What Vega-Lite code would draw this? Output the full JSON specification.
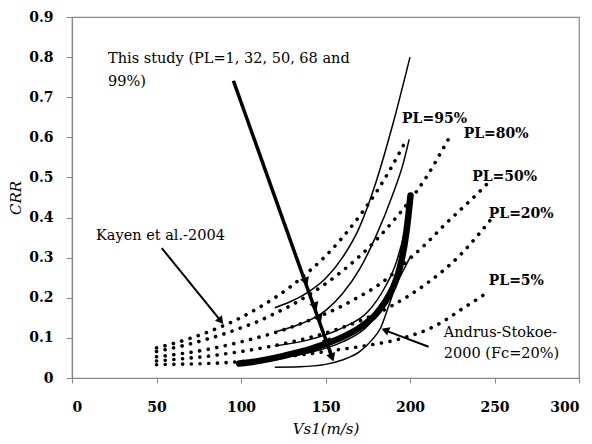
{
  "$schema": "https://vega.github.io/schema/vega-lite/v6.json",
  "width": 507,
  "height": 361,
  "autosize": {"type": "none"},
  "padding": {"left": 72, "top": 17, "right": 13, "bottom": 66},
  "background": "white",
  "config": {
    "view": {"stroke": "#888888", "strokeWidth": 1.2},
    "axis": {
      "grid": false,
      "domainColor": "#888888",
      "domainWidth": 1.2,
      "tickColor": "#888888",
      "labelColor": "black",
      "labelFont": "DejaVu Serif",
      "labelFontWeight": "bold",
      "labelFontSize": 14,
      "titleFont": "DejaVu Serif",
      "titleFontStyle": "italic",
      "titleFontWeight": "normal",
      "titleFontSize": 15,
      "titleColor": "black"
    }
  },
  "datasets": {
    "kayen": [
      {"c": "PL95", "x": 50, "y": 0.075}, {"c": "PL95", "x": 60, "y": 0.086}, {"c": "PL95", "x": 70, "y": 0.099}, {"c": "PL95", "x": 80, "y": 0.114}, {"c": "PL95", "x": 90, "y": 0.131}, {"c": "PL95", "x": 100, "y": 0.151}, {"c": "PL95", "x": 110, "y": 0.174}, {"c": "PL95", "x": 120, "y": 0.2}, {"c": "PL95", "x": 130, "y": 0.23}, {"c": "PL95", "x": 140, "y": 0.265}, {"c": "PL95", "x": 150, "y": 0.304}, {"c": "PL95", "x": 160, "y": 0.35}, {"c": "PL95", "x": 170, "y": 0.403}, {"c": "PL95", "x": 180, "y": 0.463}, {"c": "PL95", "x": 190, "y": 0.533}, {"c": "PL95", "x": 198, "y": 0.595},
      {"c": "PL80", "x": 50, "y": 0.066}, {"c": "PL80", "x": 60, "y": 0.075}, {"c": "PL80", "x": 70, "y": 0.085}, {"c": "PL80", "x": 80, "y": 0.097}, {"c": "PL80", "x": 90, "y": 0.11}, {"c": "PL80", "x": 100, "y": 0.125}, {"c": "PL80", "x": 110, "y": 0.141}, {"c": "PL80", "x": 120, "y": 0.161}, {"c": "PL80", "x": 130, "y": 0.182}, {"c": "PL80", "x": 140, "y": 0.207}, {"c": "PL80", "x": 150, "y": 0.235}, {"c": "PL80", "x": 160, "y": 0.267}, {"c": "PL80", "x": 170, "y": 0.303}, {"c": "PL80", "x": 180, "y": 0.344}, {"c": "PL80", "x": 190, "y": 0.391}, {"c": "PL80", "x": 200, "y": 0.443}, {"c": "PL80", "x": 210, "y": 0.503}, {"c": "PL80", "x": 218, "y": 0.56}, {"c": "PL80", "x": 224, "y": 0.605},
      {"c": "PL50", "x": 50, "y": 0.053}, {"c": "PL50", "x": 60, "y": 0.058}, {"c": "PL50", "x": 70, "y": 0.064}, {"c": "PL50", "x": 80, "y": 0.071}, {"c": "PL50", "x": 90, "y": 0.08}, {"c": "PL50", "x": 100, "y": 0.09}, {"c": "PL50", "x": 110, "y": 0.101}, {"c": "PL50", "x": 120, "y": 0.113}, {"c": "PL50", "x": 130, "y": 0.127}, {"c": "PL50", "x": 140, "y": 0.143}, {"c": "PL50", "x": 150, "y": 0.16}, {"c": "PL50", "x": 160, "y": 0.18}, {"c": "PL50", "x": 170, "y": 0.203}, {"c": "PL50", "x": 180, "y": 0.228}, {"c": "PL50", "x": 190, "y": 0.26}, {"c": "PL50", "x": 200, "y": 0.298}, {"c": "PL50", "x": 210, "y": 0.337}, {"c": "PL50", "x": 220, "y": 0.38}, {"c": "PL50", "x": 230, "y": 0.42}, {"c": "PL50", "x": 240, "y": 0.46}, {"c": "PL50", "x": 247, "y": 0.49},
      {"c": "PL20", "x": 50, "y": 0.0425}, {"c": "PL20", "x": 60, "y": 0.046}, {"c": "PL20", "x": 70, "y": 0.05}, {"c": "PL20", "x": 80, "y": 0.054}, {"c": "PL20", "x": 90, "y": 0.06}, {"c": "PL20", "x": 100, "y": 0.066}, {"c": "PL20", "x": 110, "y": 0.073}, {"c": "PL20", "x": 120, "y": 0.081}, {"c": "PL20", "x": 130, "y": 0.09}, {"c": "PL20", "x": 140, "y": 0.1}, {"c": "PL20", "x": 150, "y": 0.112}, {"c": "PL20", "x": 160, "y": 0.126}, {"c": "PL20", "x": 170, "y": 0.142}, {"c": "PL20", "x": 180, "y": 0.16}, {"c": "PL20", "x": 190, "y": 0.182}, {"c": "PL20", "x": 200, "y": 0.207}, {"c": "PL20", "x": 210, "y": 0.236}, {"c": "PL20", "x": 220, "y": 0.269}, {"c": "PL20", "x": 230, "y": 0.308}, {"c": "PL20", "x": 240, "y": 0.355}, {"c": "PL20", "x": 247.6, "y": 0.394},
      {"c": "PL5", "x": 50, "y": 0.033}, {"c": "PL5", "x": 60, "y": 0.034}, {"c": "PL5", "x": 70, "y": 0.035}, {"c": "PL5", "x": 80, "y": 0.036}, {"c": "PL5", "x": 90, "y": 0.038}, {"c": "PL5", "x": 100, "y": 0.041}, {"c": "PL5", "x": 110, "y": 0.045}, {"c": "PL5", "x": 120, "y": 0.05}, {"c": "PL5", "x": 130, "y": 0.055}, {"c": "PL5", "x": 140, "y": 0.06}, {"c": "PL5", "x": 150, "y": 0.066}, {"c": "PL5", "x": 160, "y": 0.072}, {"c": "PL5", "x": 170, "y": 0.078}, {"c": "PL5", "x": 180, "y": 0.085}, {"c": "PL5", "x": 190, "y": 0.093}, {"c": "PL5", "x": 200, "y": 0.105}, {"c": "PL5", "x": 210, "y": 0.12}, {"c": "PL5", "x": 220, "y": 0.142}, {"c": "PL5", "x": 230, "y": 0.17}, {"c": "PL5", "x": 240, "y": 0.197}, {"c": "PL5", "x": 246.7, "y": 0.216}
    ],
    "study": [
      {"c": "PL99", "x": 120, "y": 0.175}, {"c": "PL99", "x": 130, "y": 0.192}, {"c": "PL99", "x": 140, "y": 0.215}, {"c": "PL99", "x": 150, "y": 0.248}, {"c": "PL99", "x": 160, "y": 0.3}, {"c": "PL99", "x": 170, "y": 0.375}, {"c": "PL99", "x": 180, "y": 0.49}, {"c": "PL99", "x": 190, "y": 0.635}, {"c": "PL99", "x": 200, "y": 0.8},
      {"c": "PL68", "x": 120, "y": 0.115}, {"c": "PL68", "x": 130, "y": 0.127}, {"c": "PL68", "x": 140, "y": 0.143}, {"c": "PL68", "x": 150, "y": 0.168}, {"c": "PL68", "x": 160, "y": 0.21}, {"c": "PL68", "x": 170, "y": 0.27}, {"c": "PL68", "x": 180, "y": 0.355}, {"c": "PL68", "x": 190, "y": 0.46}, {"c": "PL68", "x": 196, "y": 0.535}, {"c": "PL68", "x": 199.5, "y": 0.595},
      {"c": "PL50", "x": 120, "y": 0.08}, {"c": "PL50", "x": 140, "y": 0.095}, {"c": "PL50", "x": 160, "y": 0.125}, {"c": "PL50", "x": 175, "y": 0.165}, {"c": "PL50", "x": 185, "y": 0.225}, {"c": "PL50", "x": 192, "y": 0.29}, {"c": "PL50", "x": 197, "y": 0.37}, {"c": "PL50", "x": 200.5, "y": 0.455},
      {"c": "PL32", "x": 120, "y": 0.052}, {"c": "PL32", "x": 140, "y": 0.063}, {"c": "PL32", "x": 160, "y": 0.09}, {"c": "PL32", "x": 175, "y": 0.13}, {"c": "PL32", "x": 185, "y": 0.19}, {"c": "PL32", "x": 192, "y": 0.26}, {"c": "PL32", "x": 197, "y": 0.34}, {"c": "PL32", "x": 200.5, "y": 0.44},
      {"c": "PL1", "x": 120, "y": 0.027}, {"c": "PL1", "x": 135, "y": 0.028}, {"c": "PL1", "x": 150, "y": 0.034}, {"c": "PL1", "x": 160, "y": 0.045}, {"c": "PL1", "x": 170, "y": 0.065}, {"c": "PL1", "x": 177.5, "y": 0.095}, {"c": "PL1", "x": 182.5, "y": 0.124}, {"c": "PL1", "x": 187.4, "y": 0.18}, {"c": "PL1", "x": 192.3, "y": 0.237}, {"c": "PL1", "x": 196.3, "y": 0.27}, {"c": "PL1", "x": 200.5, "y": 0.305}
    ],
    "andrus": [
      {"x": 99, "y": 0.036}, {"x": 110, "y": 0.042}, {"x": 120, "y": 0.05}, {"x": 130, "y": 0.06}, {"x": 140, "y": 0.071}, {"x": 150, "y": 0.085}, {"x": 160, "y": 0.102}, {"x": 170, "y": 0.125}, {"x": 180, "y": 0.16}, {"x": 185, "y": 0.188}, {"x": 190, "y": 0.226}, {"x": 193, "y": 0.26}, {"x": 195, "y": 0.294}, {"x": 197, "y": 0.339}, {"x": 199, "y": 0.403}, {"x": 200.3, "y": 0.455}
    ],
    "arrows": [
      {"a": "study", "x": 95.5, "y": 0.741}, {"a": "study", "x": 154, "y": 0.05},
      {"a": "kayen", "x": 53.1, "y": 0.324}, {"a": "kayen", "x": 88.5, "y": 0.14},
      {"a": "andrus", "x": 211, "y": 0.078}, {"a": "andrus", "x": 184.5, "y": 0.12}
    ],
    "studyHeads": [
      {"x": 138.4, "y": 0.24}, {"x": 143.9, "y": 0.178}, {"x": 146.4, "y": 0.147}, {"x": 151.2, "y": 0.088}, {"x": 153.9, "y": 0.051}
    ],
    "kayenHead": [{"x": 88.1, "y": 0.142}],
    "andrusHead": [{"x": 185.3, "y": 0.1196}],
    "labels": [
      {"t": "This study (PL=1, 32, 50, 68 and", "x": 21.3, "y": 0.7945},
      {"t": "99%)", "x": 21.3, "y": 0.737},
      {"t": "Kayen et al.-2004", "x": 14.2, "y": 0.354},
      {"t": "Andrus-Stokoe-", "x": 220, "y": 0.112},
      {"t": "2000 (Fc=20%)", "x": 220, "y": 0.06}
    ],
    "plLabels": [
      {"t": "PL=95%", "x": 195.3, "y": 0.645},
      {"t": "PL=80%", "x": 231.8, "y": 0.608},
      {"t": "PL=50%", "x": 236.8, "y": 0.5},
      {"t": "PL=20%", "x": 246.6, "y": 0.408},
      {"t": "PL=5%", "x": 246.6, "y": 0.242}
    ]
  },
  "encoding": {
    "x": {
      "field": "x", "type": "quantitative",
      "scale": {"domain": [0, 300], "nice": false, "zero": false},
      "axis": {"title": "Vs1(m/s)", "values": [0, 50, 100, 150, 200, 250, 300], "tickSize": 5, "labelPadding": 17, "titlePadding": 7}
    },
    "y": {
      "field": "y", "type": "quantitative",
      "scale": {"domain": [0, 0.9], "nice": false, "zero": false},
      "axis": {"title": "CRR", "values": [0, 0.1, 0.2, 0.3, 0.4, 0.5, 0.6, 0.7, 0.8, 0.9], "format": ".1~f", "tickSize": 6, "labelPadding": 13, "titlePadding": 5}
    }
  },
  "layer": [
    {
      "data": {"name": "kayen"},
      "mark": {"type": "line", "color": "black", "strokeWidth": 3.6, "strokeDash": [0.1, 8.6], "strokeCap": "round", "interpolate": "monotone"},
      "encoding": {"detail": {"field": "c"}}
    },
    {
      "data": {"name": "study"},
      "mark": {"type": "line", "color": "black", "strokeWidth": 1.5, "interpolate": "monotone"},
      "encoding": {"detail": {"field": "c"}}
    },
    {
      "data": {"name": "andrus"},
      "mark": {"type": "line", "color": "black", "strokeWidth": 6.5, "strokeCap": "round", "interpolate": "monotone"},
      "encoding": {}
    },
    {
      "data": {"name": "arrows"},
      "transform": [{"filter": "datum.a === 'study'"}],
      "mark": {"type": "line", "color": "black", "strokeWidth": 3.5},
      "encoding": {"detail": {"field": "a"}}
    },
    {
      "data": {"name": "arrows"},
      "transform": [{"filter": "datum.a !== 'study'"}],
      "mark": {"type": "line", "color": "black", "strokeWidth": 2},
      "encoding": {"detail": {"field": "a"}}
    },
    {
      "data": {"name": "studyHeads"},
      "mark": {"type": "point", "shape": "triangle-up", "filled": true, "color": "black", "opacity": 1, "size": 90, "angle": 160}
    },
    {
      "data": {"name": "kayenHead"},
      "mark": {"type": "point", "shape": "triangle-up", "filled": true, "color": "black", "opacity": 1, "size": 80, "angle": 141}
    },
    {
      "data": {"name": "andrusHead"},
      "mark": {"type": "point", "shape": "triangle-up", "filled": true, "color": "black", "opacity": 1, "size": 80, "angle": 291}
    },
    {
      "data": {"name": "labels"},
      "mark": {"type": "text", "align": "left", "baseline": "middle", "font": "DejaVu Serif", "fontSize": 14.5, "color": "black"},
      "encoding": {"text": {"field": "t"}}
    },
    {
      "data": {"name": "plLabels"},
      "mark": {"type": "text", "align": "left", "baseline": "middle", "font": "DejaVu Serif", "fontWeight": "bold", "fontSize": 14, "color": "black"},
      "encoding": {"text": {"field": "t"}}
    }
  ]
}
